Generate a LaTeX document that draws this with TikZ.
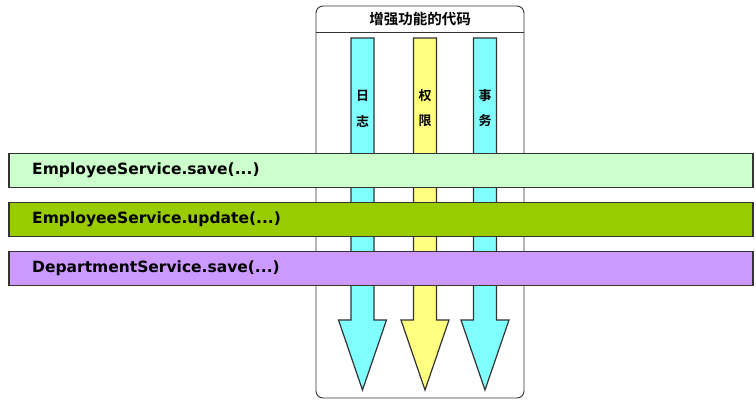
\documentclass[tikz,border=0pt]{standalone}
\usepackage{fontspec}
\setmainfont{DejaVu Sans}
\newfontfamily\cjk{Noto Sans CJK SC}[BoldFont={* Bold}]
\definecolor{cyanA}{HTML}{80FFFF}
\definecolor{yelA}{HTML}{FFFF80}
\definecolor{barA}{HTML}{CCFFCC}
\definecolor{barB}{HTML}{99CC00}
\definecolor{barC}{HTML}{CC99FF}
\definecolor{edge}{HTML}{333333}
\tikzset{
  arrowshape/.style={draw=edge, line width=1.2pt, line join=miter},
  bar/.style={draw=edge, line width=1.5pt, minimum width=744pt, minimum height=34pt, anchor=north west, inner sep=0pt},
  bartext/.style={anchor=west, font=\bfseries\fontsize{15.5}{17}\selectfont, inner sep=0pt},
  vlabel/.style={font=\cjk\bfseries\fontsize{13}{14}\selectfont, inner sep=0pt},
}
\begin{document}
\begin{tikzpicture}[x=1pt,y=-1pt]
\useasboundingbox (0,0) rectangle (756,403);
% outer box
\draw[draw=edge, line width=0.9pt, rounded corners=7pt] (316,6) rectangle (524,398);
\draw[draw=edge, line width=0.9pt] (316,32) -- (524,32);
\node[font=\cjk\bfseries\fontsize{14.5}{15}\selectfont] (title) at (420,19) {增强功能的代码};
% arrows
\foreach \c/\col in {362.5/cyanA, 425/yelA, 485/cyanA}{
  \filldraw[arrowshape, fill=\col] (\c-11.5,38) -- (\c+11.5,38) -- (\c+11.5,320) -- (\c+24,320)
    -- (\c,390) -- (\c-24,320) -- (\c-11.5,320) -- cycle;
}
\node[vlabel] (r1) at (362.5,96) {日};
\node[vlabel] (r2) at (362.5,121) {志};
\node[vlabel] (q1) at (425,96) {权};
\node[vlabel] (q2) at (425,121) {限};
\node[vlabel] (s1) at (485,96) {事};
\node[vlabel] (s2) at (485,121) {务};
% bars
\node[bar, fill=barA] (b1) at (8,153) {};
\node[bar, fill=barB] (b2) at (8,202) {};
\node[bar, fill=barC] (b3) at (8,251) {};
\node[bartext] (t1) at (32,170) {EmployeeService.save(...)};
\node[bartext] (t2) at (32,219) {EmployeeService.update(...)};
\node[bartext] (t3) at (32,268) {DepartmentService.save(...)};
\end{tikzpicture}
\end{document}
